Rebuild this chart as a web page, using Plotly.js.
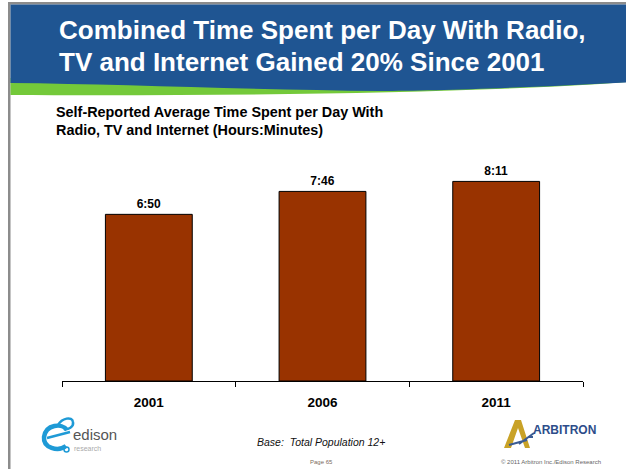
<!DOCTYPE html>
<html>
<head>
<meta charset="utf-8">
<script src="https://cdn.plot.ly/plotly-3.0.1.min.js"></script>
<style>
html,body{margin:0;padding:0;background:#fff;}
#chart{width:626px;height:469px;}
</style>
</head>
<body>
<div id="chart"></div>
<script>
// ---- data ----
const years = ["2001", "2006", "2011"];
const hoursPerDay = [6.83, 7.77, 8.18];          // hours (decimal)
const timeLabels = ["6:50", "7:46", "8:11"];      // hours:minutes

const titleLines = [
  "Combined Time Spent per Day With Radio,",
  "TV and Internet Gained 20% Since 2001"
];
const subtitleLines = [
  "Self-Reported Average Time Spent per Day With",
  "Radio, TV and Internet (Hours:Minutes)"
];
const baseNote = "Base:\u00a0 Total Population 12+";
const pageNote = "Page 65";
const copyNote = "\u00a9 2011 Arbitron Inc./Edison Research";

// ---- layout helpers (pixel -> paper) ----
const W = 626, H = 469;
const M = {l: 62, r: 43, t: 137, b: 88};
const PW = W - M.l - M.r, PH = H - M.t - M.b;
const px = x => (x - M.l) / PW;
const py = y => (H - M.b - y) / PH;
function path(pts) {
  return pts.map(p => {
    const c = p[0]; const n = p.slice(1);
    const out = [];
    for (let i = 0; i < n.length; i += 2) out.push(px(n[i]).toFixed(5) + "," + py(n[i+1]).toFixed(5));
    return c + (out.length ? " " + out.join(" ") : "");
  }).join(" ");
}
const FONT = "Arial, 'Liberation Sans', sans-serif";

const shapes = [
  // gray frame lines
  {type:"rect", xref:"paper", yref:"paper", layer:"below", x0:px(8), x1:px(626), y0:py(2), y1:py(4.5), fillcolor:"#8c8c8c", line:{width:0}},
  {type:"rect", xref:"paper", yref:"paper", layer:"below", x0:px(8), x1:px(10.5), y0:py(2), y1:py(469), fillcolor:"#8c8c8c", line:{width:0}},
  // green swoosh
  {type:"path", xref:"paper", yref:"paper", layer:"below",
   path: path([["M",10.5,78],["L",10.5,95],["C",250,96,450,93,600,84],["L",626,82],["L",626,78],["Z"]]),
   fillcolor:"#74c93a", line:{width:0}},
  // blue banner
  {type:"path", xref:"paper", yref:"paper", layer:"below",
   path: path([["M",10.5,4.5],["L",626,4.5],["L",626,82.5],["C",520,88,430,91,380,91],["C",250,90,120,84,10.5,83],["Z"]]),
   fillcolor:"#1f5592", line:{width:0}},
  // edison swirl logo
  {type:"path", xref:"paper", yref:"paper", layer:"below",
   path: path([["M",67,430],["C",62,423,46,424,44,437],["C",43,448,58,452,66,446]]),
   line:{color:"#1e9ad6", width:4.5}},
  {type:"path", xref:"paper", yref:"paper", layer:"below",
   path: path([["M",47,438],["L",70,432]]),
   line:{color:"#1e9ad6", width:2.5}},
  {type:"path", xref:"paper", yref:"paper", layer:"below",
   path: path([["M",58,425],["C",62,418,72,416,73,422],["C",74,427,68,430,64,429]]),
   line:{color:"#1e9ad6", width:2.5}},
  {type:"circle", xref:"paper", yref:"paper", layer:"below",
   x0:px(64), x1:px(69), y0:py(452), y1:py(447), line:{color:"#1e9ad6", width:1.5}},
  // arbitron A
  {type:"path", xref:"paper", yref:"paper", layer:"below",
   path: path([["M",504,448],["L",515,420],["L",521,420],["L",530,448],["L",525,448],["L",518,428],["L",511,448],["Z"]]),
   fillcolor:"#c9a227", line:{width:0}},
  {type:"path", xref:"paper", yref:"paper", layer:"below",
   path: path([["M",509,445],["L",527,440],["M",519,444],["L",534,433],["M",528,437],["L",533,437]]),
   line:{color:"#3a5b93", width:2}}
];

const annotations = [
  {text:"<b>"+titleLines[0]+"</b>", x:px(57), y:py(30), xref:"paper", yref:"paper", xanchor:"left", yanchor:"middle", showarrow:false, font:{family:FONT, size:26, color:"#ffffff"}},
  {text:"<b>"+titleLines[1]+"</b>", x:px(57), y:py(62), xref:"paper", yref:"paper", xanchor:"left", yanchor:"middle", showarrow:false, font:{family:FONT, size:26, color:"#ffffff"}},
  {text:"<b>"+subtitleLines[0]+"</b>", x:px(54), y:py(112), xref:"paper", yref:"paper", xanchor:"left", yanchor:"middle", showarrow:false, font:{family:FONT, size:14.4, color:"#000000"}},
  {text:"<b>"+subtitleLines[1]+"</b>", x:px(54), y:py(130), xref:"paper", yref:"paper", xanchor:"left", yanchor:"middle", showarrow:false, font:{family:FONT, size:14.4, color:"#000000"}},
  {text:"<i>"+baseNote+"</i>", x:px(321), y:py(442), xref:"paper", yref:"paper", xanchor:"center", yanchor:"middle", showarrow:false, font:{family:FONT, size:10.5, color:"#111111"}},
  {text:pageNote, x:px(321), y:py(462), xref:"paper", yref:"paper", xanchor:"center", yanchor:"middle", showarrow:false, font:{family:FONT, size:6, color:"#7a6a5a"}},
  {text:copyNote, x:px(551), y:py(462), xref:"paper", yref:"paper", xanchor:"center", yanchor:"middle", showarrow:false, font:{family:FONT, size:6, color:"#666666"}},
  {text:"edison", x:px(71), y:py(434.5), xref:"paper", yref:"paper", xanchor:"left", yanchor:"middle", showarrow:false, font:{family:FONT, size:15, color:"#555555"}},
  {text:"research", x:px(72), y:py(448.5), xref:"paper", yref:"paper", xanchor:"left", yanchor:"middle", showarrow:false, font:{family:FONT, size:7, color:"#aaaaaa"}},
  {text:"<b>ARBITRON</b>", x:px(531), y:py(430), xref:"paper", yref:"paper", xanchor:"left", yanchor:"middle", showarrow:false, font:{family:FONT, size:12, color:"#2d4d8a"}}
];

const trace = {
  type: "bar",
  x: years,
  y: hoursPerDay,
  text: timeLabels,
  textposition: "outside",
  texttemplate: "<b>%{text}</b>",
  textfont: {family: FONT, size: 12, color: "#000000"},
  cliponaxis: false,
  width: 0.5,
  marker: {color: "#993300", line: {color: "#000000", width: 1}},
  hoverinfo: "none"
};

const layout = {
  width: W, height: H,
  margin: M,
  paper_bgcolor: "#ffffff",
  plot_bgcolor: "rgba(0,0,0,0)",
  showlegend: false,
  xaxis: {
    type: "category",
    showline: true, linecolor: "#000000", linewidth: 1,
    ticks: "outside", tickson: "boundaries", ticklen: 5, tickcolor: "#000000", tickwidth: 1,
    ticklabelstandoff: 9,
    tickfont: {family: FONT, size: 13.5, color: "#000000", weight: "bold"},
    showgrid: false, zeroline: false, fixedrange: true
  },
  yaxis: {
    range: [0, 10], visible: false, showgrid: false, zeroline: false, fixedrange: true
  },
  shapes: shapes,
  annotations: annotations
};

Plotly.newPlot("chart", [trace], layout, {displayModeBar: false, staticPlot: true});
</script>
</body>
</html>
